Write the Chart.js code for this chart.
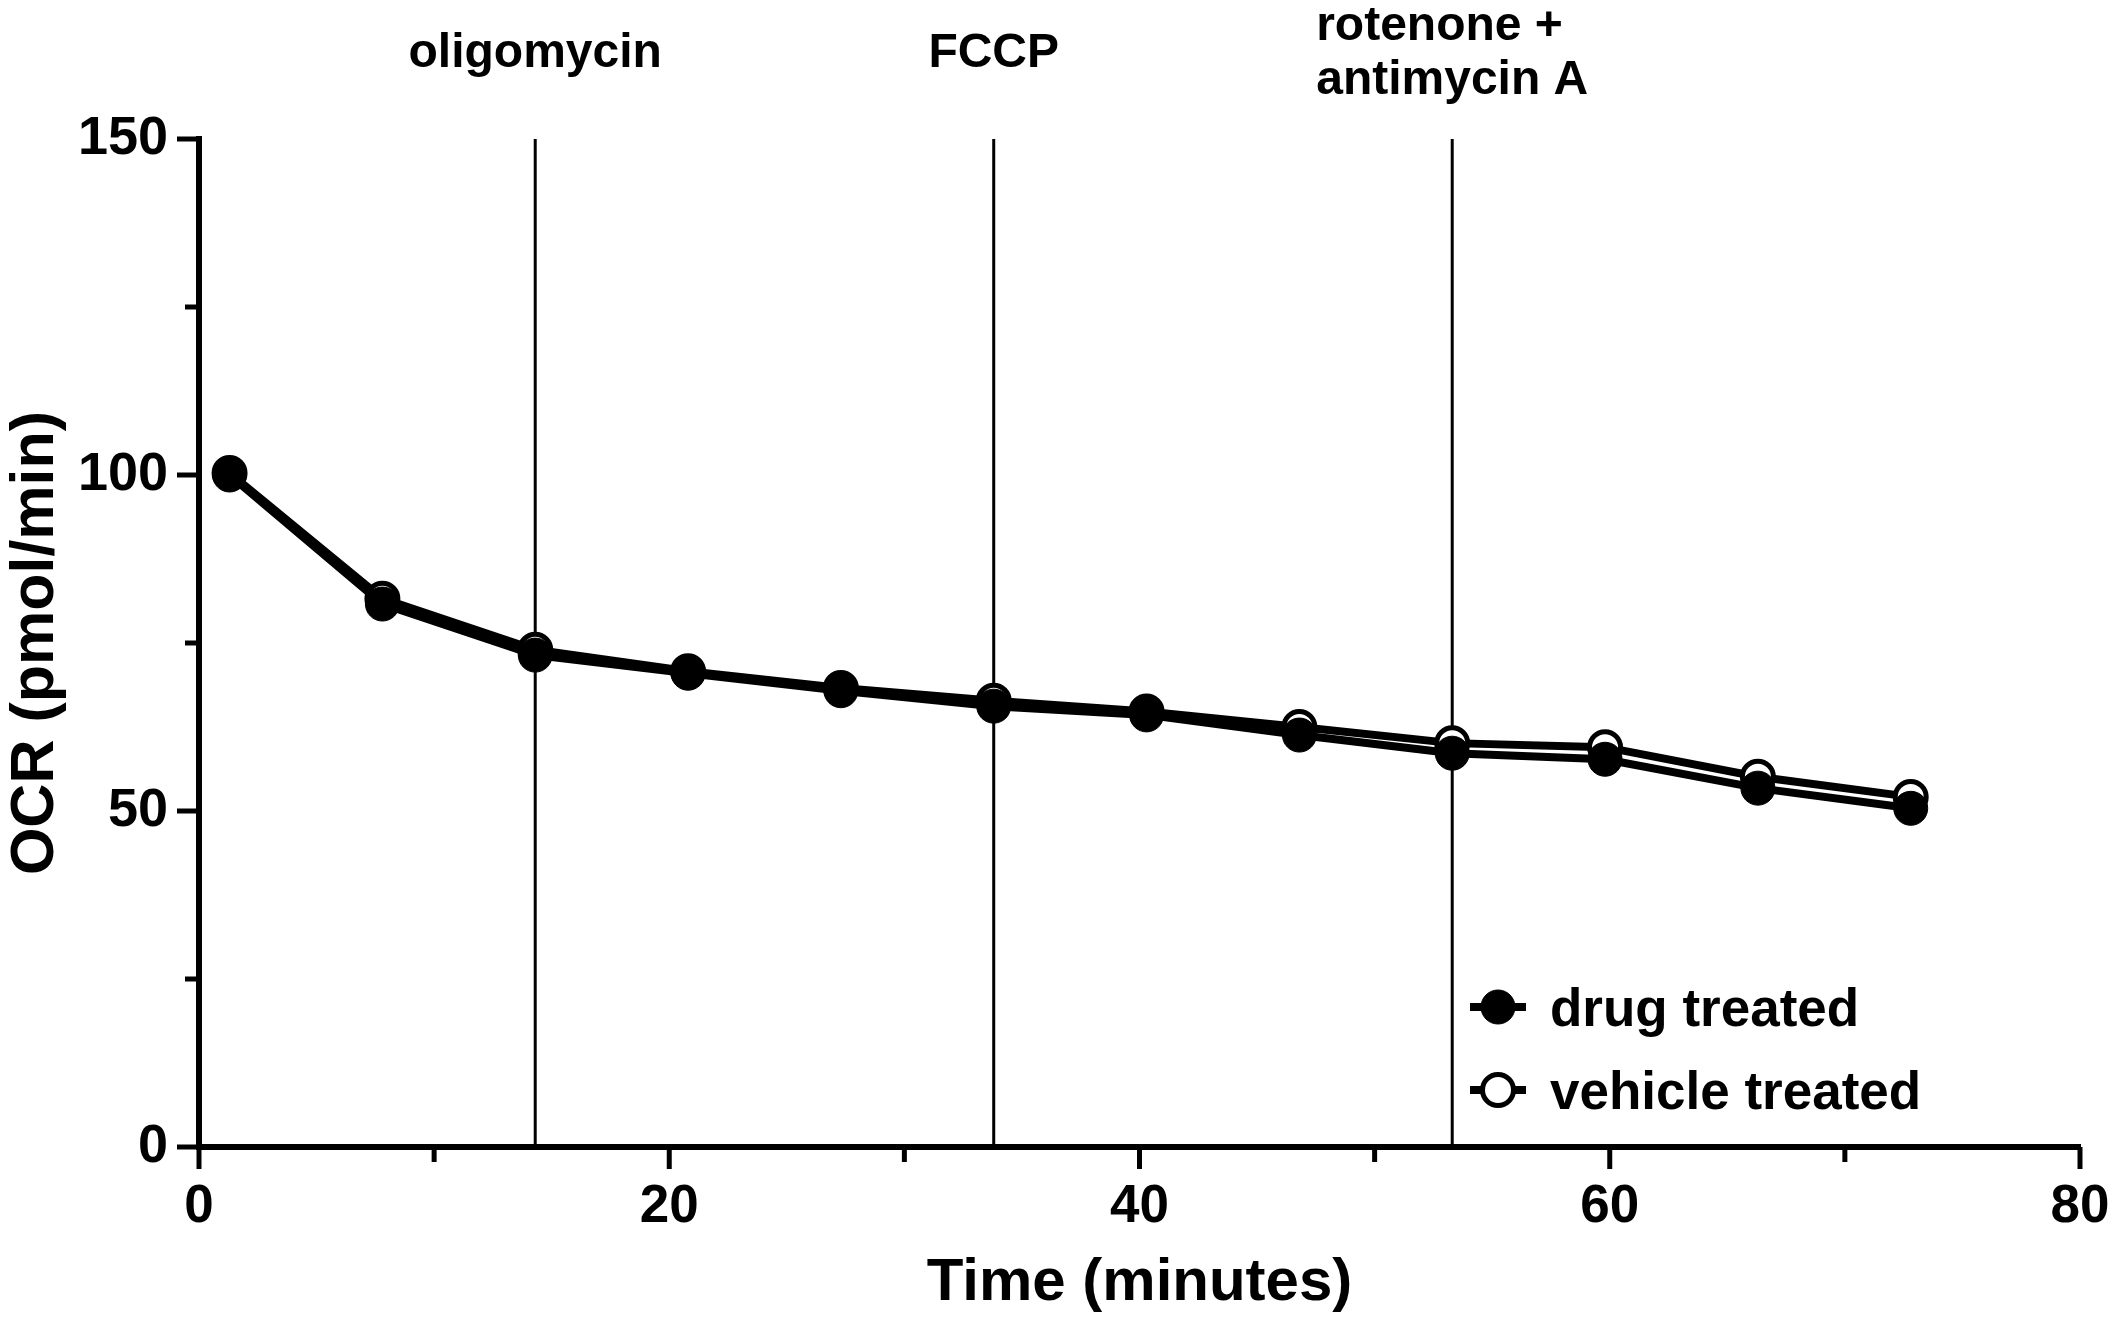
<!DOCTYPE html>
<html>
<head>
<meta charset="utf-8">
<title>OCR over time</title>
<script src="https://cdn.jsdelivr.net/npm/chart.js@4.4.1/dist/chart.umd.min.js"></script>
<style>
  html, body { margin: 0; padding: 0; background: #fff; overflow: hidden; }
  canvas { display: block; }
</style>
</head>
<body>
<canvas id="ocr-chart" width="2115" height="1323"></canvas>
<script>
// Seahorse-style OCR trace, two treatment groups
const FONT = '"Liberation Sans", Arial, Helvetica, sans-serif';

const timeMin    = [1.3, 7.8, 14.3, 20.8, 27.3, 33.8, 40.3, 46.8, 53.3, 59.8, 66.3, 72.8];
const drugOcr    = [100, 80.8, 73.2, 70.5, 67.9, 65.6, 64.3, 61.3, 58.6, 57.7, 53.4, 50.4];
const vehicleOcr = [100.3, 81.6, 74.0, 70.8, 68.3, 66.4, 64.8, 62.5, 60.1, 59.5, 55.1, 52.1];
const seriesNames = ['drug treated', 'vehicle treated'];

// injection ports
const injectTimes  = [14.3, 33.8, 53.3];
const injectLabels = [['oligomycin'], ['FCCP'], ['rotenone +', 'antimycin A']];

// axis ticks
const xMajor = [0, 20, 40, 60, 80];
const xMinor = [10, 30, 50, 70];
const yMajor = [0, 50, 100, 150];
const yMinor = [25, 75, 125];

const toPoints = (xs, ys) => xs.map((t, i) => ({ x: t, y: ys[i] }));

// vertical injection lines, tick marks, injection labels and legend
const ocrExtras = {
  id: 'ocrExtras',
  beforeDatasetsDraw(chart) {
    const { ctx, scales: { x, y } } = chart;
    ctx.save();
    ctx.strokeStyle = '#000';
    ctx.lineWidth = 3;
    injectTimes.forEach(t => {
      const px = x.getPixelForValue(t);
      ctx.beginPath();
      ctx.moveTo(px, y.getPixelForValue(y.max));
      ctx.lineTo(px, y.getPixelForValue(y.min));
      ctx.stroke();
    });
    ctx.restore();
  },
  afterDraw(chart) {
    const { ctx, chartArea, scales: { x, y } } = chart;
    ctx.save();
    ctx.strokeStyle = '#000';
    ctx.lineWidth = 5;
    ctx.lineCap = 'butt';

    const yTick = (v, len) => {
      const py = y.getPixelForValue(v);
      ctx.beginPath();
      ctx.moveTo(chartArea.left, py);
      ctx.lineTo(chartArea.left - len, py);
      ctx.stroke();
    };
    const xTick = (v, len) => {
      const px = x.getPixelForValue(v);
      ctx.beginPath();
      ctx.moveTo(px, chartArea.bottom);
      ctx.lineTo(px, chartArea.bottom + len);
      ctx.stroke();
    };
    yMajor.forEach(v => yTick(v, 22));
    yMinor.forEach(v => yTick(v, 14));
    xMajor.forEach(v => xTick(v, 22));
    xMinor.forEach(v => xTick(v, 15));

    // injection labels above the plot
    ctx.fillStyle = '#000';
    ctx.font = `bold 48px ${FONT}`;
    ctx.textAlign = 'left';
    ctx.textBaseline = 'alphabetic';
    const midY = 50, lineGap = 54;
    injectTimes.forEach((t, i) => {
      const lines = injectLabels[i];
      const px = x.getPixelForValue(t);
      const w = Math.max(...lines.map(s => ctx.measureText(s).width));
      const first = midY - (lines.length - 1) * lineGap / 2 + 17;
      lines.forEach((s, k) => ctx.fillText(s, px - w / 2, first + k * lineGap));
    });

    // legend
    const legX = 1498, legY = 1007, rowGap = 83;
    ctx.font = `bold 53px ${FONT}`;
    chart.data.datasets.forEach((ds, i) => {
      const cy = legY + i * rowGap;
      ctx.lineWidth = ds.borderWidth;
      ctx.beginPath();
      ctx.moveTo(legX - 28, cy);
      ctx.lineTo(legX + 28, cy);
      ctx.stroke();
      ctx.beginPath();
      ctx.arc(legX, cy, ds.pointRadius, 0, Math.PI * 2);
      ctx.fillStyle = ds.pointBackgroundColor;
      ctx.fill();
      ctx.lineWidth = ds.pointBorderWidth;
      ctx.stroke();
      ctx.fillStyle = '#000';
      ctx.fillText(ds.label, legX + 52, cy + 19);
    });
    ctx.restore();
  }
};

new Chart(document.getElementById('ocr-chart'), {
  type: 'line',
  data: {
    datasets: [
      {
        label: seriesNames[0],
        data: toPoints(timeMin, drugOcr),
        borderColor: '#000',
        borderWidth: 8,
        pointRadius: 17,
        pointHoverRadius: 17,
        pointBackgroundColor: '#000',
        pointBorderColor: '#000',
        pointBorderWidth: 1,
        tension: 0,
      },
      {
        label: seriesNames[1],
        data: toPoints(timeMin, vehicleOcr),
        borderColor: '#000',
        borderWidth: 8,
        pointRadius: 15.5,
        pointHoverRadius: 15.5,
        pointBackgroundColor: '#fff',
        pointBorderColor: '#000',
        pointBorderWidth: 5,
        tension: 0,
      },
    ],
  },
  options: {
    responsive: false,
    devicePixelRatio: 1,
    animation: false,
    events: [],
    layout: { padding: { left: 0, top: 139, right: 35, bottom: 0 } },
    plugins: {
      legend: { display: false },
      tooltip: { enabled: false },
    },
    scales: {
      x: {
        type: 'linear',
        position: 'bottom',
        min: 0,
        max: 80,
        afterBuildTicks: s => { s.ticks = xMajor.map(v => ({ value: v })); },
        afterFit: s => { s.height = 176; s.paddingLeft = 0; s.paddingRight = 0; },
        grid: { display: false, drawTicks: false },
        border: { display: true, color: '#000', width: 6 },
        ticks: {
          color: '#000',
          padding: 29,
          maxRotation: 0,
          font: { family: FONT, size: 53, weight: 'bold' },
        },
        title: {
          display: true,
          text: 'Time (minutes)',
          color: '#000',
          padding: { top: 0, bottom: 4 },
          font: { family: FONT, size: 60, weight: 'bold' },
        },
      },
      y: {
        type: 'linear',
        min: 0,
        max: 150,
        afterBuildTicks: s => { s.ticks = yMajor.map(v => ({ value: v })); },
        afterFit: s => { s.width = 199; s.paddingTop = 0; s.paddingBottom = 0; },
        grid: { display: false, drawTicks: false },
        border: { display: true, color: '#000', width: 6 },
        ticks: {
          color: '#000',
          padding: 31,
          font: { family: FONT, size: 54, weight: 'bold' },
        },
        title: {
          display: true,
          text: 'OCR (pmol/min)',
          color: '#000',
          padding: { top: 0, bottom: 0 },
          font: { family: FONT, size: 61, weight: 'bold' },
        },
      },
    },
  },
  plugins: [ocrExtras],
});
</script>
</body>
</html>
